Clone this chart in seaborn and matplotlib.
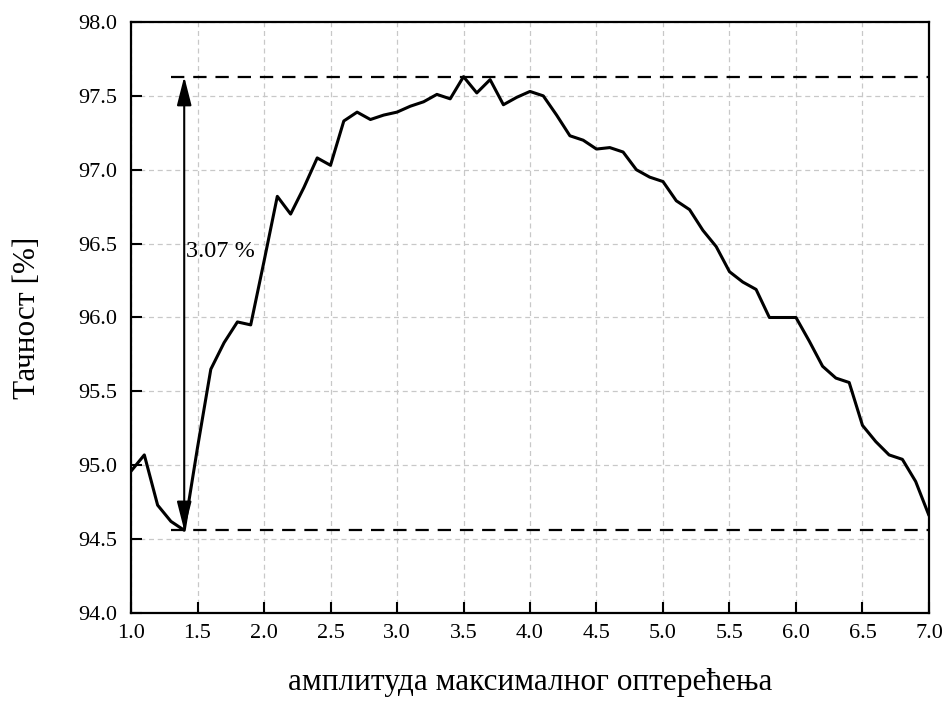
import numpy as np
import pandas as pd
import matplotlib
matplotlib.use("Agg")
import matplotlib.pyplot as plt
import seaborn as sns

amplitude = [1.0, 1.1, 1.2, 1.3, 1.4, 1.5, 1.6, 1.7, 1.8, 1.9,
             2.0, 2.1, 2.2, 2.3, 2.4, 2.5, 2.6, 2.7, 2.8, 2.9,
             3.0, 3.1, 3.2, 3.3, 3.4, 3.5, 3.6, 3.7, 3.8, 3.9,
             4.0, 4.1, 4.2, 4.3, 4.4, 4.5, 4.6, 4.7, 4.8, 4.9,
             5.0, 5.1, 5.2, 5.3, 5.4, 5.5, 5.6, 5.7, 5.8, 5.9,
             6.0, 6.1, 6.2, 6.3, 6.4, 6.5, 6.6, 6.7, 6.8, 6.9, 7.0]
accuracy = [94.96, 95.07, 94.73, 94.62, 94.56, 95.12, 95.65, 95.83, 95.97, 95.95,
            96.38, 96.82, 96.70, 96.88, 97.08, 97.03, 97.33, 97.39, 97.34, 97.37,
            97.39, 97.43, 97.46, 97.51, 97.48, 97.63, 97.52, 97.61, 97.44, 97.49,
            97.53, 97.50, 97.37, 97.23, 97.20, 97.14, 97.15, 97.12, 97.00, 96.95,
            96.92, 96.79, 96.73, 96.59, 96.48, 96.31, 96.24, 96.19, 96.00, 96.00,
            96.00, 95.84, 95.67, 95.59, 95.56, 95.27, 95.16, 95.07, 95.04, 94.89,
            94.66]
x_ticks = [1.0, 1.5, 2.0, 2.5, 3.0, 3.5, 4.0, 4.5, 5.0, 5.5, 6.0, 6.5, 7.0]
y_ticks = [94.0, 94.5, 95.0, 95.5, 96.0, 96.5, 97.0, 97.5, 98.0]
max_acc = 97.63
min_acc = 94.56
min_x = 1.4
ref_start = 1.3
diff_label = "3.07 %"
x_label = "амплитуда максималног оптерећења"
y_label = "Тачност [%]"

sns.set_style("white")
plt.rcParams['font.family'] = ['Liberation Serif', 'DejaVu Serif']
plt.rcParams['mathtext.fontset'] = 'stix'
for key in ["text.color", "axes.labelcolor", "xtick.color", "ytick.color"]:
    plt.rcParams[key] = "black"

df = pd.DataFrame({"amp": amplitude, "acc": accuracy})

fig = plt.figure(figsize=(9.46, 7.05), dpi=100)
ax = fig.add_axes([0.1385, 0.1305, 0.8435, 0.8383])

ax.grid(True, color="#c8c8c8", linestyle=(0, (4, 3)), linewidth=0.9)
ax.set_axisbelow(True)

sns.lineplot(data=df, x="amp", y="acc", ax=ax, color="black", linewidth=2.2)

ax.hlines([max_acc, min_acc], ref_start, 7.0, colors="black",
          linestyles=(0, (6, 4)), linewidth=1.6, zorder=3)
ax.annotate("", xy=(min_x, max_acc), xytext=(min_x, min_acc),
            arrowprops=dict(arrowstyle="<|-|>,head_length=1.1,head_width=0.28",
                            color="black", lw=1.5,
                            mutation_scale=16, shrinkA=0, shrinkB=0))
ax.text(min_x + 0.01, 96.45, diff_label, fontsize=17.5, va="center", ha="left")

ax.set_xlim(1.0, 7.0)
ax.set_ylim(94.0, 98.0)
ax.set_xticks(x_ticks)
ax.set_yticks(y_ticks)
ax.set_xticklabels([f"{t:.1f}" for t in x_ticks])
ax.set_yticklabels([f"{t:.1f}" for t in y_ticks])
ax.tick_params(axis="both", direction="in", length=8, width=1.5,
               labelsize=16, left=True, bottom=True, top=False, right=False)
ax.tick_params(axis="x", pad=8)
ax.tick_params(axis="y", pad=10)
for s in ax.spines.values():
    s.set_color("black")
    s.set_linewidth(1.6)

ax.set_xlabel(x_label, fontsize=22.5, labelpad=18)
ax.set_ylabel(y_label, fontsize=22.5, labelpad=26)

fig.savefig("out.png", dpi=100)
